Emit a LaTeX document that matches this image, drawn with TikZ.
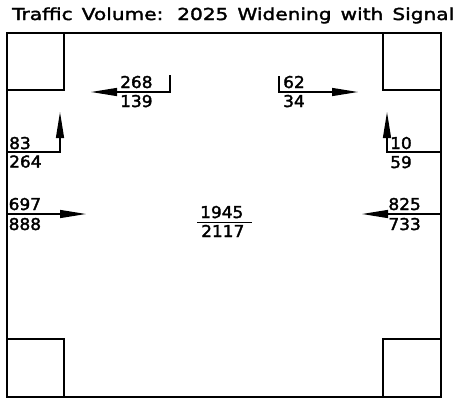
\documentclass[tikz,border=0pt]{standalone}
\usepackage{fontspec}
\setmainfont{DejaVu Sans}
\newfontfamily\titlefont[FakeStretch=1.22,FakeBold=2]{DejaVu Sans}
\newfontfamily\numfont[FakeStretch=1.04,FakeBold=2]{DejaVu Sans}
\usetikzlibrary{arrows.meta}
\begin{document}
\begin{tikzpicture}[x=1pt,y=-1pt,
  frame/.style={line width=1.6pt},
  conn/.style={line width=1.3pt},
  arr/.style={conn,-{Triangle[length=26pt,width=8pt]}},
  num/.style={inner sep=0pt,anchor=base west,font=\numfont\fontsize{16.3pt}{18pt}\selectfont},
  numr/.style={num,anchor=base east}]
\useasboundingbox (0,0) rectangle (457,402);
% title
\node[inner sep=0pt,anchor=base west] (title) at (12,20)
  {\makebox[442pt][s]{\titlefont\fontsize{16.5pt}{18pt}\selectfont Traffic Volume: 2025 Widening with Signal}};
% frame and corner blocks
\draw[frame] (7,33) rectangle (441,397);
\draw[frame] (7,33) rectangle (64,90);
\draw[frame] (383,33) rectangle (441,90);
\draw[frame] (7,339) rectangle (64,397);
\draw[frame] (383,339) rectangle (441,397);
% coordinates
\coordinate (tlTick) at (170,75);
\coordinate (tlCorner) at (170,92);
\coordinate (tlTip) at (91,92);
\coordinate (trTick) at (279,76);
\coordinate (trCorner) at (279,92);
\coordinate (trTip) at (358,92);
\coordinate (luStart) at (7,152);
\coordinate (luCorner) at (60,152);
\coordinate (luTip) at (60,112);
\coordinate (ruStart) at (441,152);
\coordinate (ruCorner) at (387,152);
\coordinate (ruTip) at (387,112);
\coordinate (lhStart) at (7,214);
\coordinate (lhTip) at (86,214);
\coordinate (rhStart) at (441,214);
\coordinate (rhTip) at (362,214);
\coordinate (cL) at (197,222.5);
\coordinate (cR) at (252,222.5);
% connectors
\draw[arr] (tlTick) -- (tlCorner) -- (tlTip);
\draw[arr] (trTick) -- (trCorner) -- (trTip);
\draw[arr] (luStart) -- (luCorner) -- (luTip);
\draw[arr] (ruStart) -- (ruCorner) -- (ruTip);
\draw[arr] (lhStart) -- (lhTip);
\draw[arr] (rhStart) -- (rhTip);
\draw[conn] (cL) -- (cR);
% labels
\node[num] (n268) at (120,88) {268};
\node[num] (n139) at (120,107) {139};
\node[num] (n62) at (283,88) {62};
\node[num] (n34) at (283,107) {34};
\node[num] (n83) at (9,149) {83};
\node[num] (n264) at (9,167.5) {264};
\node[num] (n10) at (390,149) {10};
\node[num] (n59) at (390,168) {59};
\node[num] (n697) at (8.5,210) {697};
\node[num] (n888) at (8.5,230) {888};
\node[numr] (n825) at (421,210) {825};
\node[numr] (n733) at (421,230) {733};
\node[num] (n1945) at (200,218) {1945};
\node[num] (n2117) at (201,237) {2117};
\end{tikzpicture}
\end{document}
